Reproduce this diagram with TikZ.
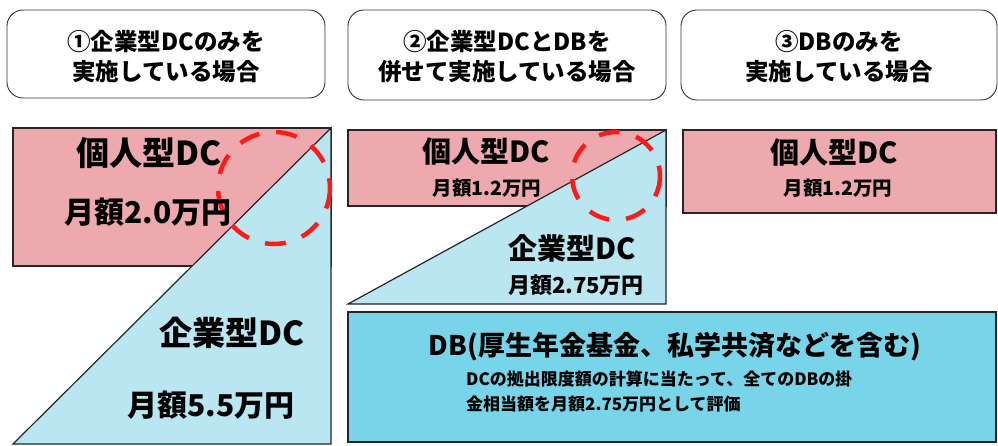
\documentclass[tikz,border=0pt]{standalone}
\usepackage{fontspec}
\newfontfamily\jp{Noto Sans CJK JP}
\definecolor{kojin}{HTML}{EDA9AD}
\definecolor{kigyo}{HTML}{B9E6F1}
\definecolor{dbblue}{HTML}{78D5E9}
\definecolor{hanrei}{HTML}{FF1A1A}
\tikzset{
  headbox/.style={draw=black!80,line width=0.9pt,rounded corners=16pt,fill=white},
  plate/.style={draw=black!85,line width=1.6pt},
  dashring/.style={draw=hanrei,line width=4.5pt,dash pattern=on 21pt off 17pt},
  headtext/.style={font=\jp\bfseries\fontsize{23.5}{30}\selectfont,align=center},
  jtext/.style={font=\jp\bfseries,inner sep=0pt}
}
\begin{document}
\begin{tikzpicture}[x=1pt,y=-1pt]
  \useasboundingbox (0,0) rectangle (998,446);

  %見出し
  	\draw[headbox] (7,10) rectangle (325,98);
  	\draw[headbox] (348,10) rectangle (666,100);
  	\draw[headbox] (681,10) rectangle (997,100);
  	\node[headtext] (head1) at (166,57) {①企業型DCのみを\\実施している場合};
  	\node[headtext] (head2) at (507,57) {②企業型DCとDBを\\併せて実施している場合};
  	\node[headtext] (head3) at (839,57) {③DBのみを\\実施している場合};

  %①
  	\draw[plate,fill=kojin] (13,128) rectangle (331,266);
  	\draw[plate,line width=1.2pt,fill=kigyo] (13,444) -- (331,128) -- (331,444) -- cycle;
  	\draw[dashring] (274,188) circle (56);
  	\node[jtext,font=\jp\bfseries\fontsize{33}{33}\selectfont] (kojin1) at (149,153) {個人型DC};
  	\node[jtext,font=\jp\bfseries\fontsize{30}{30}\selectfont] (kojingaku1) at (148,212) {月額2.0万円};
  	\node[jtext,font=\jp\bfseries\fontsize{33}{33}\selectfont] (kigyo1) at (232,333) {企業型DC};
  	\node[jtext,font=\jp\bfseries\fontsize{30}{30}\selectfont] (kigyogaku1) at (211,405) {月額5.5万円};

  %②
  	\draw[plate,fill=kojin] (348,130) rectangle (666,206);
  	\draw[plate,line width=1.2pt,fill=kigyo] (348,304) -- (666,130) -- (666,304) -- cycle;
  	\draw[dashring] (616,176) circle (44);
  	\node[jtext,font=\jp\bfseries\fontsize{29}{29}\selectfont] (kojin2) at (486,152) {個人型DC};
  	\node[jtext,font=\jp\bfseries\fontsize{19.5}{19.5}\selectfont] (kojingaku2) at (487,188) {月額1.2万円};
  	\node[jtext,font=\jp\bfseries\fontsize{29}{29}\selectfont] (kigyo2) at (572,248) {企業型DC};
  	\node[jtext,font=\jp\bfseries\fontsize{22}{22}\selectfont] (kigyogaku2) at (576,285) {月額2.75万円};

  %③
  	\draw[plate,fill=kojin] (683,130) rectangle (996,213);
  	\node[jtext,font=\jp\bfseries\fontsize{29}{29}\selectfont] (kojin3) at (834,153) {個人型DC};
  	\node[jtext,font=\jp\bfseries\fontsize{19.5}{19.5}\selectfont] (kojingaku3) at (838,188) {月額1.2万円};

  %DB
  	\draw[plate,fill=dbblue] (348,312) rectangle (996,442);
  	\node[jtext,font=\jp\bfseries\fontsize{27}{27}\selectfont] (db) at (675,347) {DB(厚生年金基金、私学共済などを含む)};
  	\node[jtext,font=\jp\bfseries\fontsize{17}{25}\selectfont,align=left,anchor=west] (dbnote) at (466,391)
  	  {DCの拠出限度額の計算に当たって、全てのDBの掛\\金相当額を月額2.75万円として評価};
\end{tikzpicture}
\end{document}
